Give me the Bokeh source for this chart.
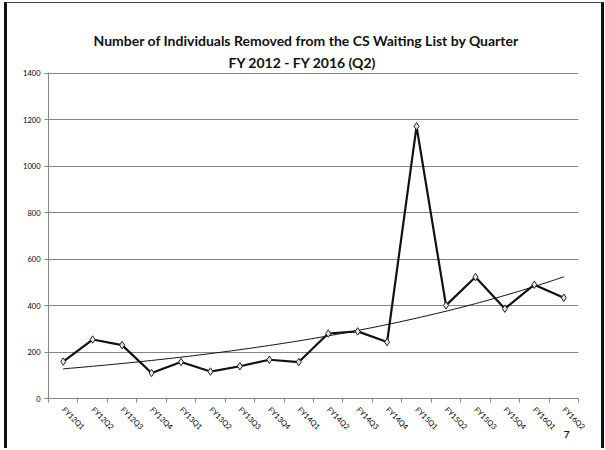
import numpy as np
from bokeh.plotting import figure
from bokeh.models import Range1d, FixedTicker, Title, ColumnDataSource
from bokeh.embed import file_html
from bokeh.resources import INLINE

# ---- data ----
quarters = ["FY12Q1", "FY12Q2", "FY12Q3", "FY12Q4", "FY13Q1", "FY13Q2",
            "FY13Q3", "FY13Q4", "FY14Q1", "FY14Q2", "FY14Q3", "FY14Q4",
            "FY15Q1", "FY15Q2", "FY15Q3", "FY15Q4", "FY16Q1", "FY16Q2"]
removed = [159, 254, 230, 110, 157, 116, 139, 167, 157, 280, 289, 243,
           1172, 401, 523, 387, 490, 434]
y_ticks = [0, 200, 400, 600, 800, 1000, 1200, 1400]
title_line1 = "Number of Individuals Removed from the CS Waiting List by Quarter"
title_line2 = "FY 2012 - FY 2016 (Q2)"
page_number = "7"

idx = list(range(len(quarters)))

# exponential trend line (least squares fit on log values, as a spreadsheet does)
b, a = np.polyfit(idx, np.log(removed), 1)
trend_x = np.linspace(idx[0], idx[-1], 120)
trend_y = np.exp(a + b * trend_x)

FONT = "Lato"
GRID = "#858585"

p = figure(width=600, height=446, output_backend="svg", toolbar_location=None,
           x_range=Range1d(-0.5, len(quarters) - 0.5), y_range=Range1d(0, 1404),
           min_border_left=41, min_border_right=29, min_border_top=69,
           min_border_bottom=51, title=None,
           styles={"margin-left": "4px", "margin-top": "2px",
                   "border-left": "3px solid #111", "border-right": "3px solid #111",
                   "border-top": "1px solid #444"})
p.outline_line_color = None
p.background_fill_color = "white"
p.border_fill_color = "white"

# grid
p.xgrid.visible = False
p.ygrid.ticker = FixedTicker(ticks=y_ticks)
p.ygrid.grid_line_color = GRID
p.ygrid.grid_line_width = 1

# x axis: labels at category centres, tick marks between categories
xa = p.xaxis[0]
xa.ticker = FixedTicker(ticks=idx, minor_ticks=[i - 0.5 for i in range(len(quarters) + 1)])
xa.major_label_overrides = {i: q for i, q in zip(idx, quarters)}
xa.major_label_orientation = -np.pi / 4
xa.major_tick_line_color = None
xa.minor_tick_line_color = GRID
xa.minor_tick_in = 0
xa.minor_tick_out = 4
xa.axis_line_color = GRID
xa.major_label_text_font = FONT
xa.major_label_text_font_size = "7.5px"
xa.major_label_text_color = "black"
xa.major_label_standoff = 4

# y axis
ya = p.yaxis[0]
ya.ticker = FixedTicker(ticks=y_ticks)
ya.major_tick_in = 0
ya.major_tick_out = 4
ya.major_tick_line_color = GRID
ya.minor_tick_line_color = None
ya.axis_line_color = GRID
ya.major_label_text_font = FONT
ya.major_label_text_font_size = "7.5px"
ya.major_label_text_color = "black"
ya.major_label_standoff = 4

# trend line
p.line(trend_x, trend_y, line_color="#111111", line_width=1)

# data series
src = ColumnDataSource(dict(x=idx, y=removed))
p.line("x", "y", source=src, line_color="#111111", line_width=2.2)
p.scatter("x", "y", source=src, marker="diamond", size=7.5,
          line_color="#222222", line_width=1, fill_color="#e6e6e6")

# titles (first added sits closest to the plot)
p.add_layout(Title(text=title_line2, align="left", offset=180, standoff=3,
                   text_font=FONT, text_font_style="bold", text_font_size="14px",
                   text_color="#111111"), "above")
p.add_layout(Title(text=title_line1, align="left", offset=45, standoff=3,
                   text_font=FONT, text_font_style="bold", text_font_size="14px",
                   text_color="#111111"), "above")

# page number
p.add_layout(Title(text=page_number, align="right", offset=9, standoff=-14,
                   vertical_align="top",
                   text_font=FONT, text_font_style="bold", text_font_size="10px",
                   text_color="#111111"), "below")

open("out.html", "w").write(file_html(p, INLINE))
